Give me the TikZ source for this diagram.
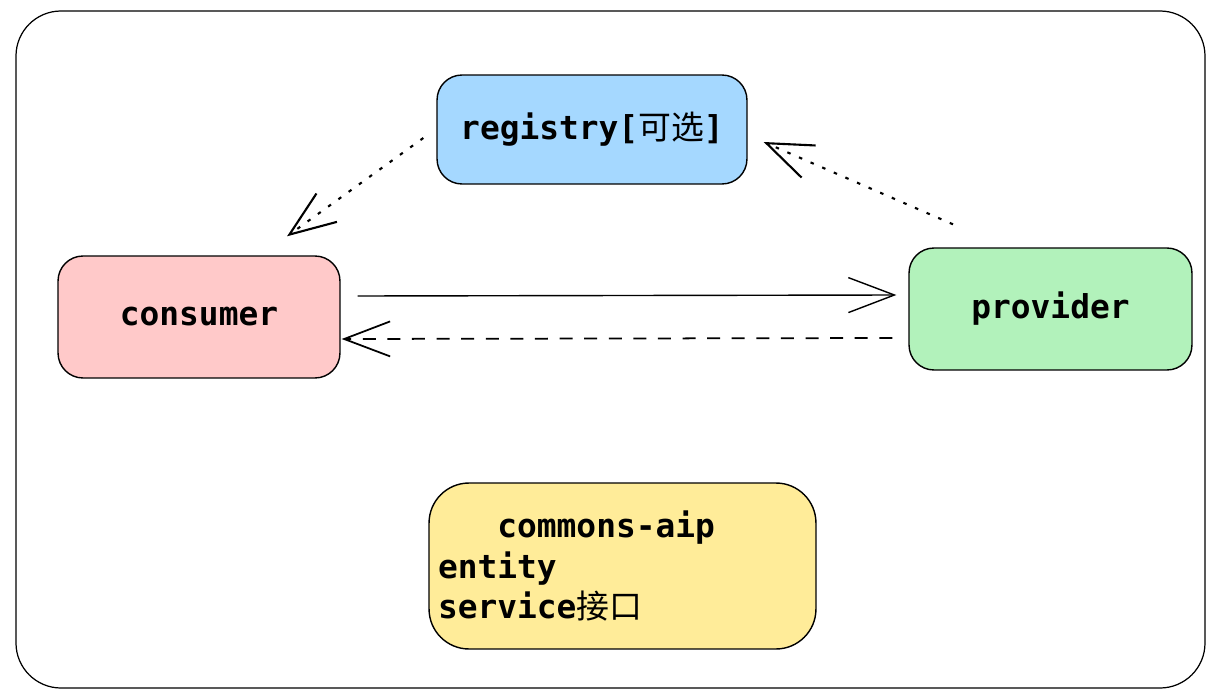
\documentclass[tikz,border=0pt]{standalone}
\usepackage{fontspec}
\setmonofont{DejaVu Sans Mono}
\newfontfamily\cjk{Noto Sans CJK SC}
\usepackage{xcolor}
\usepackage{tikz}
\usetikzlibrary{positioning, arrows.meta, calc}
\definecolor{regblue}{HTML}{A5D8FF}
\definecolor{consred}{HTML}{FFC9C9}
\definecolor{provgreen}{HTML}{B2F2BB}
\definecolor{commyellow}{HTML}{FFEC99}
\newcommand{\zh}[1]{{\cjk\mdseries #1}}
\tikzset{
  box/.style={draw, line width=0.8pt, rounded corners=0.5cm, align=center, inner sep=2pt,
    font=\ttfamily\bfseries\fontsize{18.7}{23.3}\selectfont},
  regbox/.style={box, fill=regblue, minimum width=6.2cm, minimum height=2.18cm},
  consbox/.style={box, fill=consred, minimum width=5.64cm, minimum height=2.44cm},
  provbox/.style={box, fill=provgreen, minimum width=5.66cm, minimum height=2.44cm},
  commbox/.style={box, fill=commyellow, text width=7.38cm, inner xsep=0.18cm, minimum height=3.32cm, rounded corners=0.8cm, align=left},
  tip/.style={-{Straight Barb[length=0.92cm, width=0.7cm]}},
  flow/.style={tip, line width=0.8pt},
  backflow/.style={tip, line width=1pt, dash pattern=on 7.4pt off 6.6pt},
  dotflow/.style={tip, line width=1.2pt, dash pattern=on 2pt off 5.2pt},
}
\begin{document}
\begin{tikzpicture}[x=0.02cm, y=-0.02cm]
  \useasboundingbox (0,0) rectangle (1208,693);
  % outer frame
  \draw[line width=0.7pt, rounded corners=0.9cm] (16,11) rectangle (1205,688);

  \node[regbox] (registry) at (592,129.5) {registry[\zh{可选}]};
  \node[consbox] (consumer) at (199,317) {consumer};
  \node[provbox] (provider) at (1050.5,309) {provider};
  \node[commbox] (commons) at (622.5,566) {\phantom{mmm}commons-aip\\entity\\service\zh{接口}};

  % free ends of the connectors
  \coordinate (reg-out) at ($(registry.west)+(-13,8.5)$);
  \coordinate (cons-in) at ($(consumer.north)+(88,-19)$);
  \coordinate (prov-out) at ($(provider.north)+(-97.5,-23)$);
  \coordinate (reg-in) at ($(registry.east)+(16,12.5)$);
  \coordinate (call-a) at ($(consumer.east)+(17,-21)$);
  \coordinate (call-b) at ($(provider.west)+(-12,-14)$);
  \coordinate (ret-a) at ($(provider.west)+(-16,29)$);
  \coordinate (ret-b) at ($(consumer.east)+(1,22)$);

  \draw[dotflow] (reg-out) -- (cons-in);
  \draw[dotflow] (prov-out) -- (reg-in);
  \draw[flow] (call-a) -- (call-b);
  \draw[backflow] (ret-a) -- (ret-b);
\end{tikzpicture}
\end{document}
